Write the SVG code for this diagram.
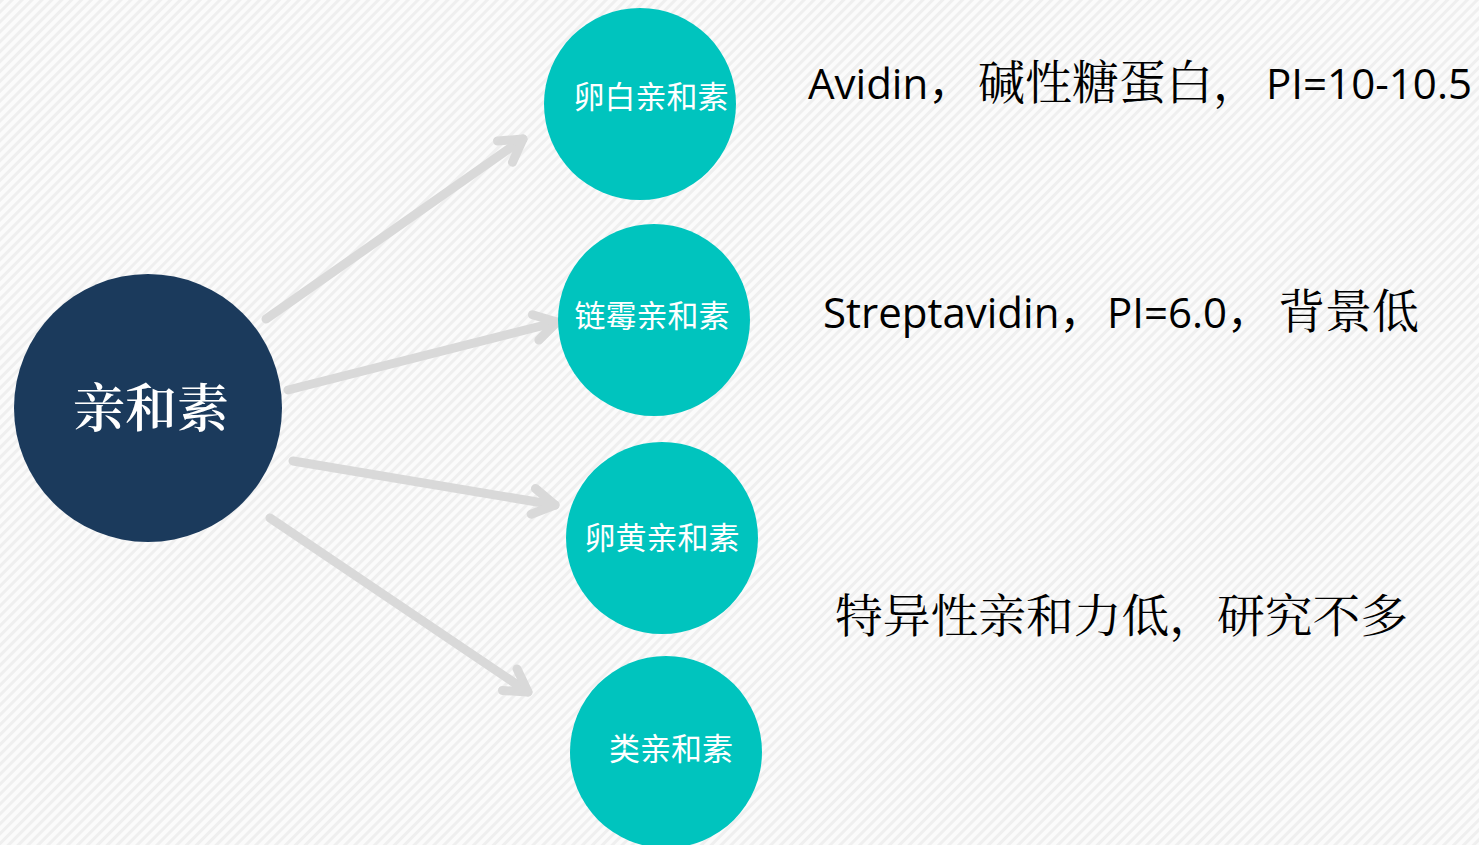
<svg xmlns="http://www.w3.org/2000/svg" width="1479" height="845" viewBox="0 0 1479 845">
  <defs>
    <pattern id="bg" width="7" height="7" patternUnits="userSpaceOnUse" patternTransform="rotate(45)">
      <rect width="7" height="7" fill="#fbfbfb"/>
      <rect width="3" height="7" fill="#efefef"/>
    </pattern>
    <marker id="chev" markerUnits="userSpaceOnUse" markerWidth="40" markerHeight="40" refX="0" refY="0" viewBox="-30 -20 40 40" orient="auto" overflow="visible">
      <path d="M -22 -13 L 0 0 L -22 13" fill="none" stroke="#d9d9d9" stroke-width="9" stroke-linecap="round" stroke-linejoin="round"/>
    </marker>
    <style>
      .conn { fill: none; stroke: #d9d9d9; stroke-width: 9; stroke-linecap: round; marker-end: url(#chev); }
      .teal { fill: #00c4be; }
      .navy { fill: #1b3a5c; }
      .nlabel { fill: #ffffff; font-family: "Noto Sans CJK SC", sans-serif; font-size: 31px; text-anchor: middle; }
      .mlabel { fill: #ffffff; font-family: "Noto Serif CJK SC", "Noto Sans CJK SC", serif; font-size: 52px; text-anchor: middle; font-weight: 600; }
      .lat { fill: #000000; font-family: "Open Sans", "Noto Sans CJK SC", sans-serif; font-size: 42px; }
      .cjk { fill: #000000; font-family: "Noto Serif CJK SC", "Noto Sans CJK SC", serif; font-size: 47px; }
      .descz { fill: #000000; font-family: "Noto Serif CJK SC", "Noto Sans CJK SC", serif; font-size: 46px; }
    </style>
  </defs>
  <rect width="1479" height="845" fill="url(#bg)"/>

  <g id="connectors">
    <path class="conn" d="M 266 319 L 523 139"/>
    <path class="conn" d="M 288 390 L 557 322"/>
    <path class="conn" d="M 293 461 L 555 505"/>
    <path class="conn" d="M 270 518 L 528 692"/>
  </g>

  <g id="node-main">
    <circle class="navy" cx="148" cy="408" r="134"/>
    <text class="mlabel" x="151" y="427">亲和素</text>
  </g>
  <g id="node-avidin">
    <circle class="teal" cx="640" cy="104" r="96"/>
    <text class="nlabel" x="651" y="108">卵白亲和素</text>
  </g>
  <g id="node-streptavidin">
    <circle class="teal" cx="654" cy="320" r="96"/>
    <text class="nlabel" x="652" y="327">链霉亲和素</text>
  </g>
  <g id="node-yolk">
    <circle class="teal" cx="662" cy="538" r="96"/>
    <text class="nlabel" x="662" y="549">卵黄亲和素</text>
  </g>
  <g id="node-like">
    <circle class="teal" cx="666" cy="752" r="96"/>
    <text class="nlabel" x="671" y="760">类亲和素</text>
  </g>

  <g id="desc-1">
    <text y="99"><tspan class="lat" x="808">Avidin，</tspan><tspan class="cjk" x="978">碱性糖蛋白，</tspan><tspan class="lat" x="1266" textLength="206" lengthAdjust="spacingAndGlyphs">PI=10-10.5</tspan></text>
  </g>
  <g id="desc-2">
    <text y="328"><tspan class="lat" x="823">Streptavidin，</tspan><tspan class="lat" x="1107">PI=6.0，</tspan><tspan class="cjk" x="1278">背景低</tspan></text>
  </g>
  <g id="desc-3">
    <text class="descz" x="835" y="632" textLength="573" lengthAdjust="spacingAndGlyphs">特异性亲和力低，研究不多</text>
  </g>
</svg>
